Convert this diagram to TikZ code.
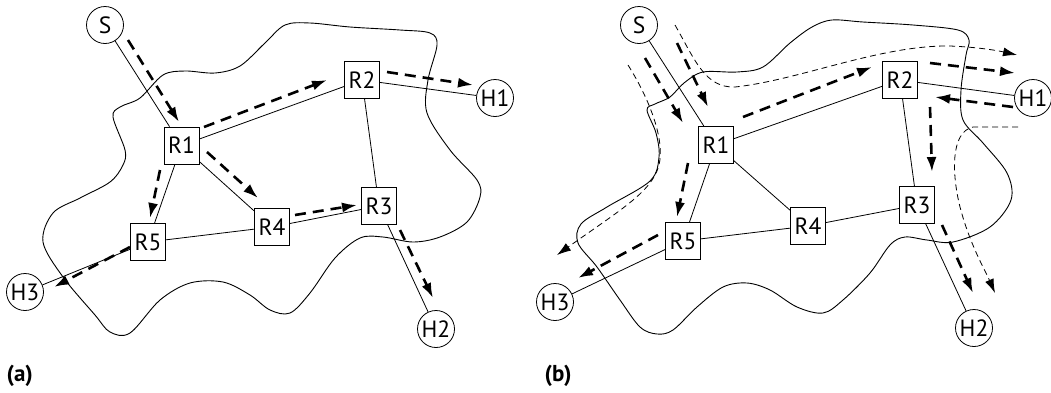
\documentclass[tikz,border=0pt]{standalone}
\usepackage{fontspec}
\setmainfont{PT Sans}
\usetikzlibrary{arrows.meta}
\begin{document}
\begin{tikzpicture}[x=1pt,y=-1pt,
  rbox/.style={draw, line width=0.8pt, minimum width=35pt, minimum height=37pt, inner sep=0pt, font=\fontsize{23.5}{24}\selectfont},
  host/.style={draw, circle, line width=0.8pt, minimum size=37pt, inner sep=0pt, font=\fontsize{23.5}{24}\selectfont},
  link/.style={line width=0.8pt},
  blob/.style={line width=0.9pt},
  thickarr/.style={line width=2.6pt, dash pattern=on 11pt off 7pt, -{Latex[length=15pt,width=10pt]}},
  thinarr/.style={line width=0.8pt, dash pattern=on 6pt off 4pt, -{Latex[length=14pt,width=9pt]}},
  plabel/.style={anchor=west, font=\fontsize{23}{24}\selectfont\bfseries}]
\useasboundingbox (0,0) rectangle (1051,392);

% ---------------- panel (a) ----------------
\draw[blob] plot[smooth cycle, tension=0.55] coordinates {
 (113,117) (120,107) (140,98) (163,75) (185,71) (215,73) (240,66) (265,43) (285,25)
 (310,23) (350,27) (400,30) (430,33) (437,45) (428,80) (427,113) (450,150) (477,180)
 (480,197) (467,222) (440,237) (413,242) (383,237) (360,238) (335,258) (310,293)
 (290,313) (270,310) (250,295) (223,282) (190,283) (160,300) (130,333) (110,332)
 (95,315) (63,277) (43,242) (53,213) (80,198) (110,182) (123,165) (125,150)};

\node[host] (aS) at (105,25) {S};
\node[rbox] (aR1) at (181.5,145.5) {R1};
\node[rbox] (aR2) at (362,80) {R2};
\node[rbox] (aR3) at (379,206) {R3};
\node[rbox] (aR4) at (272,227) {R4};
\node[rbox] (aR5) at (148,242) {R5};
\node[host] (aH1) at (495,98) {H1};
\node[host] (aH2) at (436,329) {H2};
\node[host] (aH3) at (25,292) {H3};

\draw[link] (aS) -- (aR1);
\draw[link] (aR1) -- (aR2);
\draw[link] (aR1) -- (aR5);
\draw[link] (aR1) -- (aR4);
\draw[link] (aR2) -- (aR3);
\draw[link] (aR2) -- (aH1);
\draw[link] (aR3) -- (aR4);
\draw[link] (aR4) -- (aR5);
\draw[link] (aR5) -- (aH3);
\draw[link] (aR3) -- (aH2);

\coordinate (a1s) at (128,40);  \coordinate (a1e) at (179,122);
\coordinate (a2s) at (204,127); \coordinate (a2e) at (327,80);
\coordinate (a3s) at (387,72);  \coordinate (a3e) at (473,85);
\coordinate (a4s) at (207,152); \coordinate (a4e) at (258,198);
\coordinate (a5s) at (160,170); \coordinate (a5e) at (150,218);
\coordinate (a6s) at (295,215); \coordinate (a6e) at (357,205);
\coordinate (a7s) at (130,247); \coordinate (a7e) at (54,287);
\coordinate (a8s) at (400,230); \coordinate (a8e) at (433,298);
\foreach \i in {1,...,8} \draw[thickarr] (a\i s) -- (a\i e);

\node[plabel] (la) at (3,376) {(a)};

% ---------------- panel (b) ----------------
\draw[blob] plot[smooth cycle, tension=0.55] coordinates {
 (647,110) (655,104) (670,97) (684,83) (703,72) (737,72) (763,67) (790,43) (812,27)
 (832,20) (863,22) (913,25) (958,30) (969,40) (966,55) (961,90) (963,120) (983,143)
 (1007,173) (1011,200) (990,227) (953,242) (927,240) (905,237) (890,245) (870,273)
 (843,300) (823,313) (797,307) (770,290) (747,283) (723,287) (697,307) (673,330)
 (657,334) (640,327) (620,300) (597,267) (578,243) (581,224) (607,207) (650,181)
 (659,157) (656,133)};

\node[host] (bS) at (639,25) {S};
\node[rbox] (bR1) at (716,145) {R1};
\node[rbox] (bR2) at (900,80) {R2};
\node[rbox] (bR3) at (917,205) {R3};
\node[rbox] (bR4) at (808,226) {R4};
\node[rbox] (bR5) at (683,241) {R5};
\node[host] (bH1) at (1033,98) {H1};
\node[host] (bH2) at (974,328) {H2};
\node[host] (bH3) at (555,302) {H3};

\draw[link] (bS) -- (bR1);
\draw[link] (bR1) -- (bR2);
\draw[link] (bR1) -- (bR5);
\draw[link] (bR1) -- (bR4);
\draw[link] (bR2) -- (bR3);
\draw[link] (bR2) -- (bH1);
\draw[link] (bR3) -- (bR4);
\draw[link] (bR4) -- (bR5);
\draw[link] (bR5) -- (bH3);
\draw[link] (bR3) -- (bH2);

% thick dashed arrows
\coordinate (b1s) at (677,43);  \coordinate (b1e) at (708,107);
\coordinate (b2s) at (645,58);  \coordinate (b2e) at (683,123);
\coordinate (b3s) at (743,117); \coordinate (b3e) at (872,67);
\coordinate (b4s) at (930,63);  \coordinate (b4e) at (1015,73);
\coordinate (b5s) at (1013,107);\coordinate (b5e) at (935,97);
\coordinate (b6s) at (930,107); \coordinate (b6e) at (932,172);
\coordinate (b7s) at (942,225); \coordinate (b7e) at (973,293);
\coordinate (b8s) at (688,163); \coordinate (b8e) at (677,217);
\coordinate (b9s) at (658,235); \coordinate (b9e) at (578,278);
\foreach \i in {1,...,9} \draw[thickarr] (b\i s) -- (b\i e);

% thin dashed arrows
\coordinate (t1s) at (628,65);  \coordinate (t1e) at (557,255);
\draw[thinarr] (t1s) .. controls (650,100) and (665,140) .. (659,165)
  .. controls (652,192) and (620,210) .. (t1e);
\coordinate (t2s) at (675,25);  \coordinate (t2e) at (1017,55);
\draw[thinarr] (t2s) .. controls (695,60) and (705,88) .. (735,87)
  .. controls (800,80) and (880,45) .. (950,46) .. controls (975,47) and (995,50) .. (t2e);
\coordinate (t3s) at (1018,127); \coordinate (t3e) at (995,293);
\draw[thinarr] (t3s) -- (973,127) .. controls (950,132) and (952,175) .. (960,207)
  .. controls (970,245) and (985,270) .. (t3e);

\node[plabel] (lb) at (541,376) {(b)};
\end{tikzpicture}
\end{document}
